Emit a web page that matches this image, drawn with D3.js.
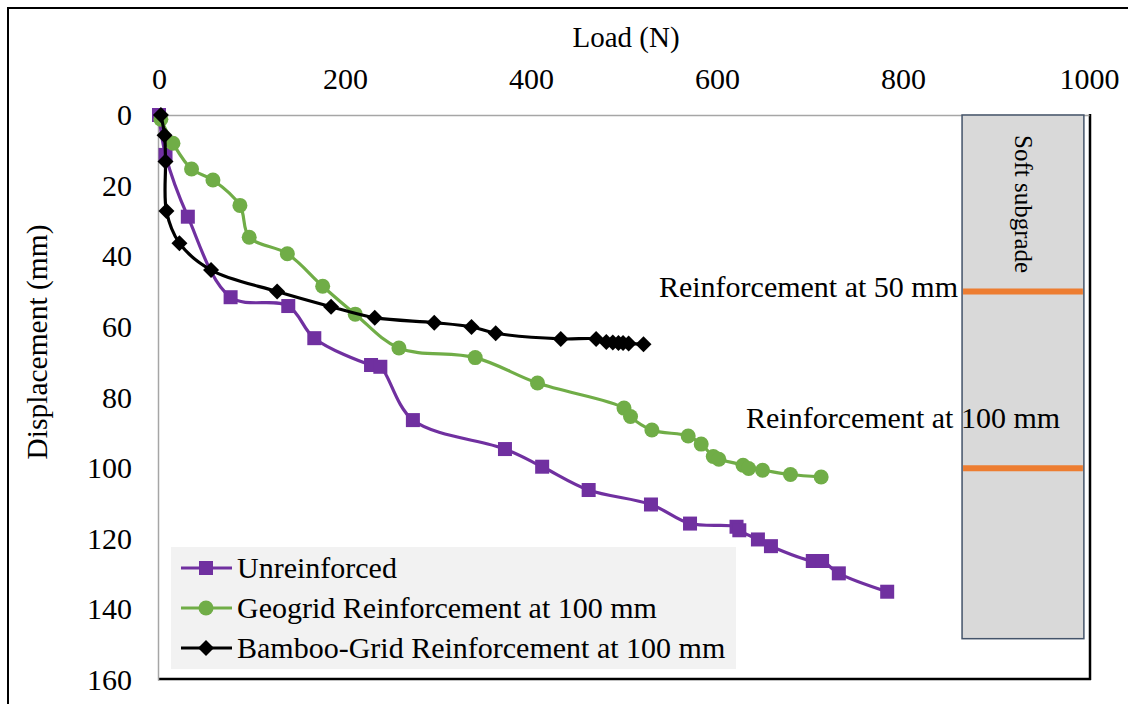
<!DOCTYPE html>
<html>
<head>
<meta charset="utf-8">
<script src="https://cdn.jsdelivr.net/npm/d3@7"></script>
<style>
  html, body { margin: 0; padding: 0; background: #fff; }
  svg text { font-family: "Liberation Serif", "Times New Roman", serif; fill: #000; }
</style>
</head>
<body>
<svg id="chart" width="1128" height="704"></svg>
<script>
// ---------- data ----------
const xTicks = [0, 200, 400, 600, 800, 1000];
const yTicks = [0, 20, 40, 60, 80, 100, 120, 140, 160];

const seriesNames = ["Unreinforced", "Geogrid Reinforcement at 100 mm", "Bamboo-Grid Reinforcement at 100 mm"];

const unreinforcedLoad = [0, 7, 31, 77, 139, 167, 228, 238, 273, 372, 412, 462, 529, 571, 621, 624, 644, 658, 703, 713, 731, 783];
const unreinforcedDisp = [0, 11.3, 28.8, 51.6, 54.1, 63.2, 70.8, 71.3, 86.4, 94.6, 99.6, 106.2, 110.3, 115.7, 116.6, 117.6, 120.2, 122.1, 126.3, 126.3, 129.8, 135.0];

const geogridLoad = [2, 15, 35, 58, 87, 97, 138, 176, 211, 258, 340, 407, 500, 507, 530, 569, 583, 596, 602, 628, 634, 649, 679, 712];
const geogridDisp = [1.2, 8.0, 15.3, 18.4, 25.6, 34.6, 39.3, 48.5, 56.4, 66.0, 68.7, 75.9, 83.0, 85.4, 89.2, 90.9, 93.2, 96.7, 97.5, 99.2, 100.1, 100.6, 101.8, 102.5];

const bambooLoad = [2, 6, 7, 8, 22, 56, 127, 185, 232, 296, 336, 362, 432, 470, 481, 488, 494, 499, 505, 521];
const bambooDisp = [0, 5.7, 13.2, 27.2, 36.3, 43.9, 50.0, 54.3, 57.4, 58.8, 60.0, 61.8, 63.4, 63.4, 64.3, 64.4, 64.6, 64.6, 64.7, 64.9];

// soft subgrade schematic (in data units)
const subgradeLoad = [863.5, 994.5];
const subgradeDepth = [0, 148.3];
const reinforcementDepths = [50, 100];
const annotations = ["Reinforcement at 50 mm", "Reinforcement at 100 mm"];
const subgradeLabel = "Soft subgrade";

// ---------- layout ----------
const svg = d3.select("#chart");
const L = 159, R = 1089, T = 115, B = 680;
const x = d3.scaleLinear().domain([0, 1000]).range([L, R]);
const y = d3.scaleLinear().domain([0, 160]).range([T, B]);

// outer chart border
svg.append("rect").attr("x", 8).attr("y", 8).attr("width", 1140).attr("height", 720)
  .attr("fill", "#fff").attr("stroke", "#000").attr("stroke-width", 2);

// plot-area frame: gray top/left, black shadow right/bottom
svg.append("line").attr("x1", R + 1).attr("x2", R + 1).attr("y1", T - 1).attr("y2", B + 0)
  .attr("stroke", "#000").attr("stroke-width", 2.5);
svg.append("line").attr("x1", L - 1).attr("x2", R + 2).attr("y1", B - 1).attr("y2", B - 1)
  .attr("stroke", "#000").attr("stroke-width", 2.5);

// axes (top x, left y)
const xAxis = d3.axisTop(x).tickValues(xTicks).tickSize(0).tickPadding(26).tickFormat(d3.format("d"));
const gx = svg.append("g").attr("transform", `translate(0,${T})`).call(xAxis);
gx.select(".domain").attr("stroke", "#a6a6a6").attr("stroke-width", 1.5);
gx.selectAll("text").attr("font-size", 30).attr("font-family", "Liberation Serif");

const yAxis = d3.axisLeft(y).tickValues(yTicks).tickSize(0).tickPadding(26).tickFormat(d3.format("d"));
const gy = svg.append("g").attr("transform", `translate(${L - 1},0)`).call(yAxis);
gy.select(".domain").attr("stroke", "#a6a6a6").attr("stroke-width", 1.5);
gy.selectAll("text").attr("font-size", 30).attr("font-family", "Liberation Serif");

// axis titles
svg.append("text").attr("x", 626).attr("y", 47).attr("text-anchor", "middle")
  .attr("font-size", 29).text("Load (N)");
svg.append("text").attr("transform", "translate(47,342) rotate(-90)").attr("text-anchor", "middle")
  .attr("font-size", 29.5).text("Displacement (mm)");

// soft subgrade box
svg.append("rect")
  .attr("x", x(subgradeLoad[0])).attr("y", y(subgradeDepth[0]))
  .attr("width", x(subgradeLoad[1]) - x(subgradeLoad[0]))
  .attr("height", y(subgradeDepth[1]) - y(subgradeDepth[0]))
  .attr("fill", "#d9d9d9").attr("stroke", "#44546a").attr("stroke-width", 1.5);
svg.selectAll(".reinf").data(reinforcementDepths).join("line")
  .attr("x1", x(subgradeLoad[0]) + 1).attr("x2", x(subgradeLoad[1]) - 1)
  .attr("y1", d => y(d)).attr("y2", d => y(d))
  .attr("stroke", "#ed7d31").attr("stroke-width", 6);
svg.append("text")
  .attr("transform", `translate(${(x(subgradeLoad[0]) + x(subgradeLoad[1])) / 2 - 8},${y(0) + 20}) rotate(90)`)
  .attr("font-size", 25).text(subgradeLabel);

// annotation texts
svg.append("text").attr("x", 958).attr("y", 297).attr("text-anchor", "end")
  .attr("font-size", 30).text(annotations[0]);
svg.append("text").attr("x", 746).attr("y", 428).attr("text-anchor", "start")
  .attr("font-size", 30).text(annotations[1]);

// ---------- series ----------
const series = [
  { name: seriesNames[0], xs: unreinforcedLoad, ys: unreinforcedDisp, color: "#7030a0", marker: "square" },
  { name: seriesNames[1], xs: geogridLoad, ys: geogridDisp, color: "#70ad47", marker: "circle" },
  { name: seriesNames[2], xs: bambooLoad, ys: bambooDisp, color: "#000000", marker: "diamond" }
];

const line = d3.line().x(d => x(d[0])).y(d => y(d[1])).curve(d3.curveCatmullRom.alpha(0.5));

function drawMarker(g, type, color, cx, cy) {
  if (type === "square") {
    g.append("rect").attr("x", cx - 7).attr("y", cy - 7).attr("width", 14).attr("height", 14).attr("fill", color);
  } else if (type === "circle") {
    g.append("circle").attr("cx", cx).attr("cy", cy).attr("r", 7.5).attr("fill", color);
  } else {
    g.append("path").attr("d", `M${cx},${cy - 8}L${cx + 8},${cy}L${cx},${cy + 8}L${cx - 8},${cy}Z`).attr("fill", color);
  }
}

series.forEach(s => {
  const pts = s.xs.map((v, i) => [v, s.ys[i]]);
  svg.append("path").datum(pts).attr("d", line)
    .attr("fill", "none").attr("stroke", s.color).attr("stroke-width", 3.2).attr("stroke-linejoin", "round");
  const g = svg.append("g");
  pts.forEach(p => drawMarker(g, s.marker, s.color, x(p[0]), y(p[1])));
});

// ---------- legend ----------
const lg = svg.append("g");
lg.append("rect").attr("x", 171).attr("y", 547).attr("width", 565).attr("height", 122).attr("fill", "#f2f2f2");
series.forEach((s, i) => {
  const cy = 568 + i * 40;
  lg.append("line").attr("x1", 181).attr("x2", 232).attr("y1", cy).attr("y2", cy)
    .attr("stroke", s.color).attr("stroke-width", 3.2);
  drawMarker(lg, s.marker, s.color, 206, cy);
  lg.append("text").attr("x", 237).attr("y", cy + 10).attr("font-size", 30).text(s.name);
});
</script>
</body>
</html>
